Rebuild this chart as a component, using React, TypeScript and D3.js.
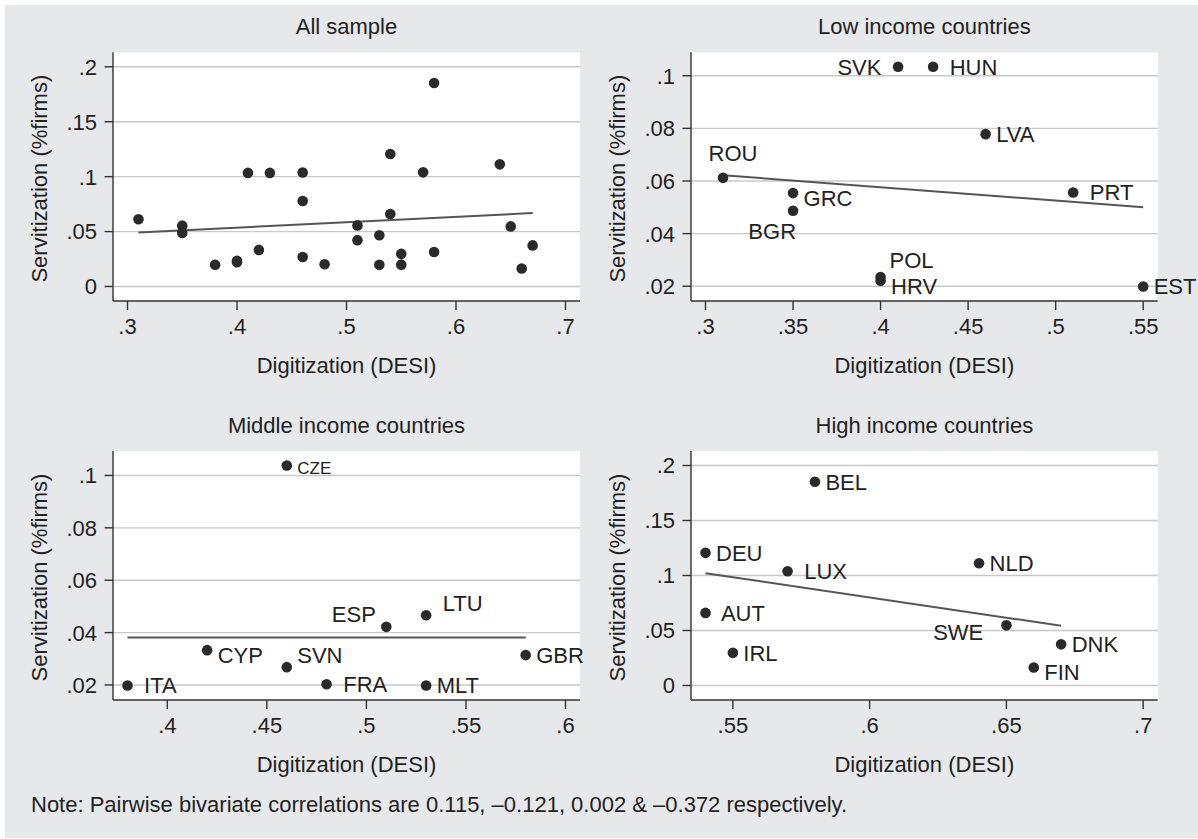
import React, { useEffect, useRef } from 'react';
import * as d3 from 'd3';

// Servitization vs digitization (DESI), by country
const lowNames = ['ROU', 'GRC', 'BGR', 'POL', 'HRV', 'SVK', 'HUN', 'LVA', 'PRT', 'EST'];
const lowLabels = ['ROU', 'GRC', 'BGR', 'POL', 'HRV', 'SVK ', ' HUN', 'LVA', ' PRT', 'EST'];
const lowDesi = [0.31, 0.35, 0.35, 0.4, 0.4, 0.41, 0.43, 0.46, 0.51, 0.55];
const lowServ = [0.0612, 0.0554, 0.0487, 0.0235, 0.0221, 0.1034, 0.1034, 0.0778, 0.0556, 0.0199];
const lowClock = [12, 4, 7, 1, 4, 9, 3, 3, 3, 3];

const midNames = ['ITA', 'CYP', 'CZE', 'SVN', 'FRA', 'ESP', 'LTU', 'MLT', 'GBR'];
const midLabels = [' ITA', 'CYP', 'CZE', 'SVN', ' FRA', 'ESP', ' LTU', 'MLT', 'GBR'];
const midDesi = [0.38, 0.42, 0.46, 0.46, 0.48, 0.51, 0.53, 0.53, 0.58];
const midServ = [0.0198, 0.0333, 0.1038, 0.0268, 0.0203, 0.0422, 0.0466, 0.0198, 0.0314];
const midClock = [3, 4, 3, 2, 3, 11, 2, 3, 3];

const highNames = ['DEU', 'AUT', 'IRL', 'LUX', 'BEL', 'NLD', 'SWE', 'FIN', 'DNK'];
const highLabels = ['DEU', ' AUT', 'IRL', ' LUX', 'BEL', 'NLD', 'SWE ', 'FIN', 'DNK'];
const highDesi = [0.54, 0.54, 0.55, 0.57, 0.58, 0.64, 0.65, 0.66, 0.67];
const highServ = [0.1206, 0.066, 0.0297, 0.1039, 0.1852, 0.1112, 0.0547, 0.0164, 0.0374];
const highClock = [3, 3, 3, 3, 3, 3, 8, 4, 3];

// fitted lines (end points)
const fitAllX = [0.31, 0.67];
const fitAllY = [0.0492, 0.0668];
const fitLowX = [0.31, 0.55];
const fitLowY = [0.0622, 0.05];
const fitMidX = [0.38, 0.58];
const fitMidY = [0.0381, 0.0381];
const fitHighX = [0.54, 0.67];
const fitHighY = [0.1021, 0.0543];

const allXTicks = [0.3, 0.4, 0.5, 0.6, 0.7];
const allYTicks = [0, 0.05, 0.1, 0.15, 0.2];
const lowXTicks = [0.3, 0.35, 0.4, 0.45, 0.5, 0.55];
const lowYTicks = [0.02, 0.04, 0.06, 0.08, 0.1];
const midXTicks = [0.4, 0.45, 0.5, 0.55, 0.6];
const midYTicks = [0.02, 0.04, 0.06, 0.08, 0.1];
const highXTicks = [0.55, 0.6, 0.65, 0.7];
const highYTicks = [0, 0.05, 0.1, 0.15, 0.2];

const titles = ['All sample', 'Low income countries', 'Middle income countries', 'High income countries'];
const xTitle = 'Digitization (DESI)';
const yTitle = 'Servitization (%firms)';
const note = 'Note: Pairwise bivariate correlations are 0.115, \u20130.121, 0.002 & \u20130.372 respectively.';

const W = 1198;
const H = 839;
const FONT = '"Liberation Sans", Arial, Helvetica, sans-serif';
const FS = 22;
const INK = '#222';

type Pt = { name: string; label: string; x: number; y: number; clock: number };

function zip(names: string[], labels: string[], xs: number[], ys: number[], clock: number[]): Pt[] {
    return names.map((n, i) => ({ name: n, label: labels[i], x: xs[i], y: ys[i], clock: clock[i] }));
}

const fmt = (v: number) => String(+v.toFixed(3)).replace(/^0\./, '.');

// clock position -> [dx, dy (text middle), anchor]
function clockOffset(c: number): [number, number, string] {
    const g = 10.5;
    switch (c) {
        case 12:
            return [10, -25, 'middle'];
        case 1:
            return [9, -17, 'start'];
        case 2:
            return [g, -12, 'start'];
        case 4:
            return [g, 5, 'start'];
        case 7:
            return [3, 20, 'end'];
        case 8:
            return [-17, 7, 'end'];
        case 9:
            return [-g, 0, 'end'];
        case 11:
            return [-g, -13, 'end'];
        default:
            return [g, 0, 'start'];
    }
}

export default function App() {
    const ref = useRef<SVGSVGElement>(null);

    useEffect(() => {
        const svg = d3.select(ref.current);
        svg.selectAll('*').remove();

        svg.append('rect').attr('width', W).attr('height', H).attr('fill', '#fff');
        svg.append('rect').attr('x', 5).attr('y', 5).attr('width', W - 5).attr('height', H - 6).attr('fill', '#e7e8ea');

        const low = zip(lowNames, lowLabels, lowDesi, lowServ, lowClock);
        const mid = zip(midNames, midLabels, midDesi, midServ, midClock);
        const high = zip(highNames, highLabels, highDesi, highServ, highClock);
        const all = [...low, ...mid, ...high].map((d) => ({ ...d, label: '' }));

        const panels = [
            { pts: all, fx: fitAllX, fy: fitAllY, xt: allXTicks, yt: allYTicks, x0: 113, x1: 580, y0: 52.3, y1: 301 },
            { pts: low, fx: fitLowX, fy: fitLowY, xt: lowXTicks, yt: lowYTicks, x0: 691, x1: 1157.7, y0: 52.3, y1: 301 },
            { pts: mid, fx: fitMidX, fy: fitMidY, xt: midXTicks, yt: midYTicks, x0: 113, x1: 580, y0: 451, y1: 700 },
            { pts: high, fx: fitHighX, fy: fitHighY, xt: highXTicks, yt: highYTicks, x0: 691, x1: 1157.7, y0: 451, y1: 700 },
        ];

        const pad = 14.5;

        panels.forEach((p, pi) => {
            const xExt = d3.extent([...p.xt, ...p.pts.map((d) => d.x)]) as [number, number];
            const yExt = d3.extent([...p.yt, ...p.pts.map((d) => d.y)]) as [number, number];
            const x = d3.scaleLinear().domain(xExt).range([p.x0 + pad, p.x1 - pad]);
            const y = d3.scaleLinear().domain(yExt).range([p.y1 - pad, p.y0 + pad]);

            const g = svg.append('g').attr('font-family', FONT).attr('font-size', FS).attr('fill', INK);

            g.append('rect')
                .attr('x', p.x0)
                .attr('y', p.y0)
                .attr('width', p.x1 - p.x0)
                .attr('height', p.y1 - p.y0)
                .attr('fill', '#fff');

            // grid
            g.selectAll('.grid')
                .data(p.yt)
                .enter()
                .append('line')
                .attr('x1', p.x0)
                .attr('x2', p.x1)
                .attr('y1', (d) => y(d))
                .attr('y2', (d) => y(d))
                .attr('stroke', '#c8c8c8')
                .attr('stroke-width', 1.4);

            // axes
            g.append('line')
                .attr('x1', p.x0)
                .attr('x2', p.x0)
                .attr('y1', p.y0)
                .attr('y2', p.y1)
                .attr('stroke', '#333')
                .attr('stroke-width', 1.4);
            g.append('line')
                .attr('x1', p.x0)
                .attr('x2', p.x1)
                .attr('y1', p.y1)
                .attr('y2', p.y1)
                .attr('stroke', '#333')
                .attr('stroke-width', 1.4);

            g.selectAll('.ytick')
                .data(p.yt)
                .enter()
                .append('line')
                .attr('x1', p.x0 - 8.5)
                .attr('x2', p.x0)
                .attr('y1', (d) => y(d))
                .attr('y2', (d) => y(d))
                .attr('stroke', '#333')
                .attr('stroke-width', 1.4);
            g.selectAll('.ylab')
                .data(p.yt)
                .enter()
                .append('text')
                .attr('x', p.x0 - 16)
                .attr('y', (d) => y(d) + FS * 0.36)
                .attr('text-anchor', 'end')
                .text(fmt);

            g.selectAll('.xtick')
                .data(p.xt)
                .enter()
                .append('line')
                .attr('x1', (d) => x(d))
                .attr('x2', (d) => x(d))
                .attr('y1', p.y1)
                .attr('y2', p.y1 + 9)
                .attr('stroke', '#333')
                .attr('stroke-width', 1.4);
            g.selectAll('.xlab')
                .data(p.xt)
                .enter()
                .append('text')
                .attr('x', (d) => x(d))
                .attr('y', p.y1 + 33)
                .attr('text-anchor', 'middle')
                .text(fmt);

            const cx = (p.x0 + p.x1) / 2;
            g.append('text').attr('x', cx).attr('y', p.y0 - 18).attr('text-anchor', 'middle').text(titles[pi]);
            g.append('text').attr('x', cx).attr('y', p.y1 + 72).attr('text-anchor', 'middle').text(xTitle);
            g.append('text')
                .attr('transform', `translate(${p.x0 - 66},${(p.y0 + p.y1) / 2 + 2}) rotate(-90)`)
                .attr('text-anchor', 'middle')
                .text(yTitle);

            // fitted line
            g.append('path')
                .datum(p.fx.map((v, i) => [v, p.fy[i]] as [number, number]))
                .attr('d', d3.line<[number, number]>().x((d) => x(d[0])).y((d) => y(d[1])))
                .attr('fill', 'none')
                .attr('stroke', '#555')
                .attr('stroke-width', 2);

            g.selectAll('.pt')
                .data(p.pts)
                .enter()
                .append('circle')
                .attr('cx', (d) => x(d.x))
                .attr('cy', (d) => y(d.y))
                .attr('r', 5.3)
                .attr('fill', '#2a2a2a');

            g.selectAll('.mlab')
                .data(p.pts.filter((d) => d.label))
                .enter()
                .append('text')
                .each(function (d) {
                    const [dx, dy, anchor] = clockOffset(d.clock);
                    const fs = d.name === 'CZE' ? 17 : FS;
                    d3.select(this)
                        .attr('x', x(d.x) + dx)
                        .attr('y', y(d.y) + (d.name === 'CZE' ? 2 : dy) + fs * 0.36)
                        .attr('text-anchor', anchor)
                        .attr('font-size', fs)
                        .attr('xml:space', 'preserve')
                        .style('white-space', 'pre')
                        .text(d.label);
                });
        });

        svg.append('text')
            .attr('x', 31)
            .attr('y', 811.7)
            .attr('font-family', FONT)
            .attr('font-size', FS)
            .attr('fill', INK)
            .text(note);
    }, []);

    return <svg ref={ref} width={W} height={H} style={{ position: 'absolute', left: 0, top: 0 }} />;
}
